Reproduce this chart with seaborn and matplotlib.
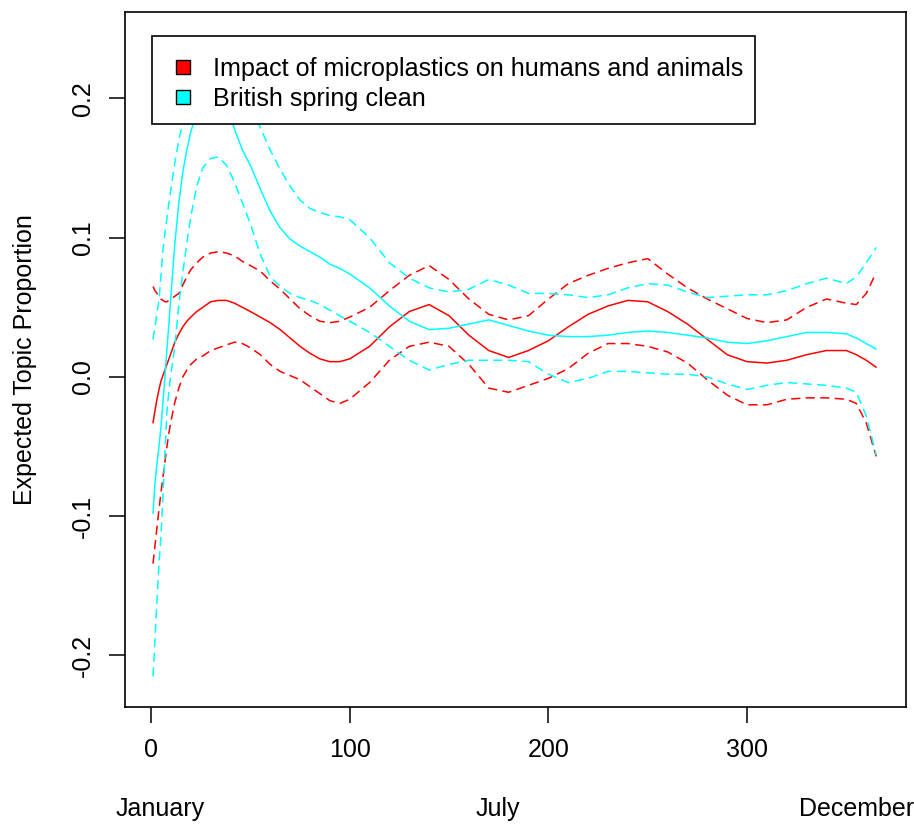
import matplotlib
matplotlib.use("Agg")
import matplotlib.pyplot as plt
import matplotlib.transforms as mtransforms
from matplotlib.patches import Patch, Rectangle
from matplotlib.legend_handler import HandlerPatch
import seaborn as sns
import pandas as pd

# ---------------- data ----------------
days = [1, 2, 3, 4, 5, 6, 7, 8, 9, 10, 12, 14, 16, 18, 20, 23, 26, 30, 34, 38,
        42, 46, 50, 55, 60, 65, 70, 75, 80, 85, 90, 95, 100, 110, 120, 130, 140,
        150, 160, 170, 180, 190, 200, 210, 220, 230, 240, 250, 260, 270, 280,
        290, 300, 310, 320, 330, 340, 350, 355, 360, 365]

micro_mean = [-0.033, -0.024, -0.016, -0.009, -0.003, 0.001, 0.005, 0.009, 0.013, 0.017,
              0.025, 0.031, 0.036, 0.040, 0.043, 0.047, 0.050, 0.054, 0.055, 0.055,
              0.053, 0.050, 0.047, 0.043, 0.039, 0.034, 0.028, 0.022, 0.017, 0.013,
              0.011, 0.011, 0.013, 0.022, 0.036, 0.047, 0.052, 0.044, 0.030, 0.019,
              0.014, 0.019, 0.026, 0.036, 0.045, 0.051, 0.055, 0.054, 0.047, 0.038,
              0.027, 0.016, 0.011, 0.010, 0.012, 0.016, 0.019, 0.019, 0.016, 0.012, 0.007]
micro_upper = [0.065, 0.062, 0.060, 0.058, 0.056, 0.055, 0.054, 0.054, 0.055, 0.056,
               0.058, 0.060, 0.066, 0.072, 0.077, 0.082, 0.086, 0.089, 0.090, 0.089,
               0.087, 0.083, 0.080, 0.076, 0.069, 0.063, 0.056, 0.049, 0.044, 0.040,
               0.039, 0.040, 0.043, 0.050, 0.062, 0.073, 0.080, 0.070, 0.056, 0.045,
               0.041, 0.044, 0.056, 0.067, 0.073, 0.078, 0.082, 0.085, 0.074, 0.064,
               0.056, 0.049, 0.042, 0.039, 0.041, 0.050, 0.056, 0.053, 0.052, 0.060, 0.075]
micro_lower = [-0.134, -0.121, -0.108, -0.095, -0.083, -0.072, -0.061, -0.050, -0.040, -0.032,
               -0.018, -0.008, 0.000, 0.005, 0.009, 0.013, 0.015, 0.019, 0.021, 0.023,
               0.025, 0.024, 0.021, 0.016, 0.009, 0.004, 0.001, -0.002, -0.007, -0.012,
               -0.017, -0.019, -0.016, -0.004, 0.012, 0.022, 0.025, 0.022, 0.009, -0.008,
               -0.011, -0.006, -0.001, 0.006, 0.017, 0.024, 0.024, 0.022, 0.018, 0.010,
               -0.002, -0.013, -0.020, -0.020, -0.016, -0.015, -0.015, -0.016, -0.019, -0.033, -0.057]

clean_mean = [-0.098, -0.076, -0.062, -0.050, -0.036, -0.018, 0.000, 0.020, 0.038, 0.058,
              0.096, 0.125, 0.147, 0.163, 0.176, 0.190, 0.199, 0.204, 0.204, 0.195,
              0.178, 0.163, 0.152, 0.135, 0.119, 0.107, 0.099, 0.094, 0.090, 0.086,
              0.081, 0.078, 0.074, 0.064, 0.051, 0.040, 0.034, 0.035, 0.038, 0.041,
              0.037, 0.033, 0.030, 0.029, 0.029, 0.030, 0.032, 0.033, 0.032, 0.030,
              0.028, 0.025, 0.024, 0.026, 0.029, 0.032, 0.032, 0.031, 0.028, 0.024, 0.020]
clean_upper = [0.027, 0.036, 0.046, 0.055, 0.073, 0.091, 0.103, 0.114, 0.125, 0.135,
               0.154, 0.170, 0.183, 0.197, 0.210, 0.225, 0.235, 0.242, 0.243, 0.238,
               0.226, 0.210, 0.196, 0.179, 0.163, 0.149, 0.137, 0.127, 0.121, 0.118,
               0.116, 0.115, 0.113, 0.100, 0.082, 0.071, 0.064, 0.061, 0.063, 0.070,
               0.066, 0.060, 0.060, 0.059, 0.057, 0.059, 0.064, 0.067, 0.066, 0.061,
               0.057, 0.058, 0.059, 0.059, 0.062, 0.067, 0.071, 0.067, 0.072, 0.082, 0.093]
clean_lower = [-0.215, -0.189, -0.160, -0.134, -0.115, -0.085, -0.055, -0.025, -0.010, 0.002,
               0.022, 0.052, 0.075, 0.096, 0.115, 0.137, 0.150, 0.157, 0.158, 0.152,
               0.140, 0.125, 0.110, 0.088, 0.072, 0.065, 0.060, 0.057, 0.055, 0.052,
               0.048, 0.044, 0.040, 0.032, 0.022, 0.012, 0.005, 0.009, 0.012, 0.012,
               0.012, 0.011, 0.002, -0.004, -0.001, 0.004, 0.004, 0.003, 0.002, 0.002,
               0.000, -0.005, -0.009, -0.006, -0.004, -0.005, -0.006, -0.008, -0.011, -0.028, -0.056]

topic_labels = ["Impact of microplastics on humans and animals", "British spring clean"]
topic_colors = ["#FF0000", "#00FFFF"]
x_ticks = [0, 100, 200, 300]
y_ticks = [-0.2, -0.1, 0.0, 0.1, 0.2]
y_tick_labels = ["-0.2", "-0.1", "0.0", "0.1", "0.2"]
month_labels = ["January", "July", "December"]
month_positions = [4.5, 174.5, 355.0]
y_label = "Expected Topic Proportion"

# ---------------- styling ----------------
sns.set_style("white")
plt.rcParams["font.family"] = ["Liberation Sans", "DejaVu Sans"]
plt.rcParams["text.color"] = "black"
FS = 18.0
LEG_FS = 18.1
DPI = 100

fig = plt.figure(figsize=(9.14, 8.24), dpi=DPI)
ax = fig.add_axes([125 / 914, 1 - 707 / 824, 781 / 914, 695 / 824])

series = [
    (micro_mean, topic_colors[0], "solid"),
    (micro_upper, topic_colors[0], "dashed"),
    (micro_lower, topic_colors[0], "dashed"),
    (clean_mean, topic_colors[1], "solid"),
    (clean_upper, topic_colors[1], "dashed"),
    (clean_lower, topic_colors[1], "dashed"),
]
for vals, col, ls in series:
    df = pd.DataFrame({"day": days, "value": vals})
    line_kw = dict(linestyle="-") if ls == "solid" else dict(dashes=(6, 3.5))
    sns.lineplot(data=df, x="day", y="value", color=col, linewidth=1.1,
                 estimator=None, sort=False, ax=ax, **line_kw)

ax.set_xlim(-13.1, 380.0)
ax.set_ylim(-0.2370, 0.2621)
ax.set_xticks(x_ticks)
ax.set_xticklabels([str(t) for t in x_ticks])
ax.set_yticks(y_ticks)
ax.set_yticklabels(y_tick_labels, rotation=90, va="center")
ax.set_xlabel("")
ax.set_ylabel(y_label, fontsize=FS, rotation=90, color="black")
ax.yaxis.label.set(rotation_mode="default", va="center", ha="center")
ax.yaxis.set_label_coords(-0.128, 0.5)

for sp in ax.spines.values():
    sp.set_visible(True)
    sp.set_color("black")
    sp.set_linewidth(1.2)
ax.tick_params(axis="both", direction="out", length=11.5, width=1.1,
               color="black", labelsize=FS, labelcolor="black")
ax.tick_params(axis="x", pad=11, bottom=True)
ax.tick_params(axis="y", pad=10, left=True)
ax.grid(False)

trans = mtransforms.blended_transform_factory(ax.transData, ax.transAxes)
for lab, pos in zip(month_labels, month_positions):
    ax.text(pos, -0.1465, lab, transform=trans, ha="center", va="center",
            fontsize=FS, color="black")

# legend with square keys (entries sit slightly low inside the box, as in R)
SQ = 10.0          # key size, points
SHIFT_PX = 4.0     # downward nudge of entries inside the frame
SHIFT_PT = SHIFT_PX * 72.0 / DPI


def square_patch(legend, orig_handle, xdescent, ydescent, width, height, fontsize):
    return Rectangle((-xdescent + width - SQ,
                      -ydescent + (height - SQ) / 2 - SHIFT_PT), SQ, SQ)


handles = [Patch(facecolor=c, edgecolor="black", linewidth=1.0) for c in topic_colors]
leg = ax.legend(handles, topic_labels, loc="upper left",
                bbox_to_anchor=(27 / 781, 0.3, 603 / 781, (707 - 36) / 695 - 0.3),
                mode="expand", borderaxespad=0, fontsize=LEG_FS, frameon=True,
                fancybox=False, shadow=False, framealpha=1, edgecolor="black",
                borderpad=0.68, labelspacing=0.24, handlelength=0.84,
                handletextpad=0.92, labelcolor="black",
                handler_map={Patch: HandlerPatch(patch_func=square_patch)})
leg.get_frame().set_linewidth(1.2)
for t in leg.get_texts():
    t.set_y(-SHIFT_PX)

fig.savefig("out.png", dpi=DPI)
